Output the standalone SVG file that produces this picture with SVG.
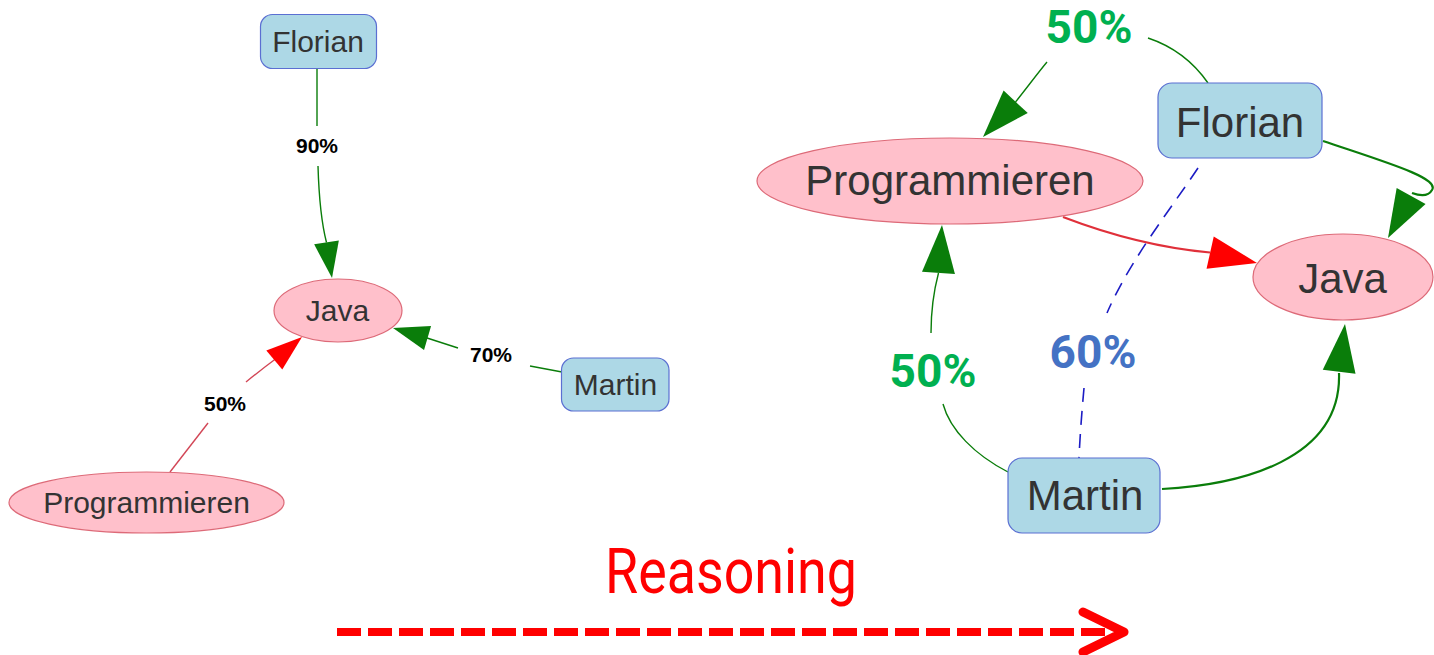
<svg xmlns="http://www.w3.org/2000/svg" xmlns:xlink="http://www.w3.org/1999/xlink" width="1434" height="655" viewBox="0 0 1434 655">
  <defs>
    <style>
      .box { fill: #add8e6; stroke: #5b6fd2; stroke-width: 1.2; }
      .oval { fill: #ffc0cb; stroke: #dd6a78; stroke-width: 1.2; }
      .name { font-family: "Liberation Sans", Arial, sans-serif; fill: #333333; text-anchor: middle; }
      .small { font-size: 30px; }
      .big { font-size: 42px; }
      .edge { fill: none; }
      .g { stroke: #0a7d0a; }
      .r { stroke: #e0303a; }
      .thin { stroke-width: 1.4; }
      .thick { stroke-width: 2.2; }
      .dash { stroke: #1c1cc4; stroke-width: 1.6; stroke-dasharray: 14 9; fill: none; }
      .pct { font-family: "Liberation Sans", Arial, sans-serif; font-weight: bold; font-size: 21px; fill: #000000; text-anchor: middle; }
      .pctBig { font-family: Roboto, "Liberation Sans", sans-serif; font-weight: bold; font-size: 46px; text-anchor: middle; }
      .green { fill: #00b050; }
      .blue { fill: #4472c4; }
      .hg { fill: #0a7d0a; }
      .hr { fill: #ff0000; }
    </style>
    <!-- arrowheads point along +x with their tip at the origin -->
    <path id="headS" d="M0,0 L-36,-12.5 L-36,12.5 Z"/>
    <path id="headL" d="M0,0 L-48,-16.5 L-48,16.5 Z"/>
  </defs>

  <rect width="1434" height="655" fill="#ffffff"/>

  <!-- connectors -->
  <g id="connectors">
    <!-- left graph -->
    <path class="edge g thin" d="M317,68 L317,126"/>
    <path class="edge g thin" d="M318,166 C319,200 322,225 326.5,242.5"/>
    <use xlink:href="#headS" class="hg" transform="translate(332,278) rotate(81.2)"/>
    <text class="pct" x="317" y="153">90%</text>

    <path class="edge g thin" d="M562,372 L530,366"/>
    <path class="edge g thin" d="M458,348 L425.5,337.5"/>
    <use xlink:href="#headS" class="hg" transform="translate(393,328) rotate(196.3)"/>
    <text class="pct" x="491" y="362">70%</text>

    <path class="edge thin" stroke="#d24656" d="M170,472 L208,423"/>
    <path class="edge thin" stroke="#d24656" d="M246,382 Q262,369 275.5,359"/>
    <use xlink:href="#headS" class="hr" transform="translate(302,337) rotate(-39.7)"/>
    <text class="pct" x="225" y="411">50%</text>

    <!-- right graph -->
    <path class="edge g thin" d="M1208,83 C1192,60 1172,46 1148,38"/>
    <path class="edge g thin" d="M1047,62 C1037,74 1026,89 1015.5,102"/>
    <use xlink:href="#headL" class="hg" transform="translate(983,137) rotate(132.9)"/>
    <text class="pctBig green" x="1089" y="43">50%</text>

    <path class="edge g thick" d="M1323,141 C1385,162 1440,178 1432,190 C1428,197 1420,196 1412,193"/>
    <use xlink:href="#headL" class="hg" transform="translate(1388,238) rotate(118.8)"/>

    <path class="edge r thick" d="M1063,217 C1110,235 1160,248 1210,252.5"/>
    <use xlink:href="#headL" class="hr" transform="translate(1257,263) rotate(12.6)"/>

    <path class="edge g thin" d="M1008,472 C975,455 950,430 943,404"/>
    <path class="edge g thin" d="M931,333 C931,310 934,290 938.5,273"/>
    <use xlink:href="#headL" class="hg" transform="translate(942,225) rotate(-85.8)"/>
    <text class="pctBig green" x="933" y="387">50%</text>

    <path class="edge g thick" d="M1162,489 C1240,485 1342,460 1339,373"/>
    <use xlink:href="#headL" class="hg" transform="translate(1345,324) rotate(-83)"/>

    <path class="dash" d="M1198,168 C1170,210 1130,260 1107,313"/>
    <path class="dash" d="M1084,388 C1082,410 1080,435 1079,458"/>
    <text class="pctBig blue" x="1093" y="368">60%</text>
  </g>

  <!-- left graph nodes -->
  <g id="florian-left">
    <rect class="box" x="260.5" y="14.5" width="116" height="54" rx="12"/>
    <text class="name small" x="318" y="52">Florian</text>
  </g>
  <g id="java-left">
    <ellipse class="oval" cx="338" cy="310.5" rx="64" ry="31.5"/>
    <text class="name small" x="337.5" y="321">Java</text>
  </g>
  <g id="martin-left">
    <rect class="box" x="561.5" y="358" width="107.5" height="53" rx="12"/>
    <text class="name small" x="615.5" y="395">Martin</text>
  </g>
  <g id="programmieren-left">
    <ellipse class="oval" cx="146.5" cy="502.5" rx="137.5" ry="30.5"/>
    <text class="name small" x="146.5" y="513">Programmieren</text>
  </g>

  <!-- right graph nodes -->
  <g id="florian-right">
    <rect class="box" x="1158" y="83" width="164" height="75" rx="14"/>
    <text class="name big" x="1240" y="137">Florian</text>
  </g>
  <g id="programmieren-right">
    <ellipse class="oval" cx="950" cy="181" rx="193" ry="43"/>
    <text class="name big" x="950" y="195">Programmieren</text>
  </g>
  <g id="java-right">
    <ellipse class="oval" cx="1343" cy="277" rx="90" ry="43"/>
    <text class="name big" x="1342.5" y="293">Java</text>
  </g>
  <g id="martin-right">
    <rect class="box" x="1008" y="458" width="152" height="75" rx="14"/>
    <text class="name big" x="1085" y="510">Martin</text>
  </g>

  <!-- reasoning arrow between the two graphs -->
  <g id="reasoning">
    <text x="731" y="593" font-family="Roboto, 'Liberation Sans', sans-serif" font-size="63" fill="#ff0000" text-anchor="middle" textLength="252" lengthAdjust="spacingAndGlyphs">Reasoning</text>
    <path d="M337,632 L1112,632" stroke="#ff0000" stroke-width="8" stroke-dasharray="24 7" fill="none"/>
    <polyline points="1083,612 1124,632 1083,652" stroke="#ff0000" stroke-width="9" stroke-linecap="round" stroke-linejoin="round" fill="none"/>
  </g>
</svg>
